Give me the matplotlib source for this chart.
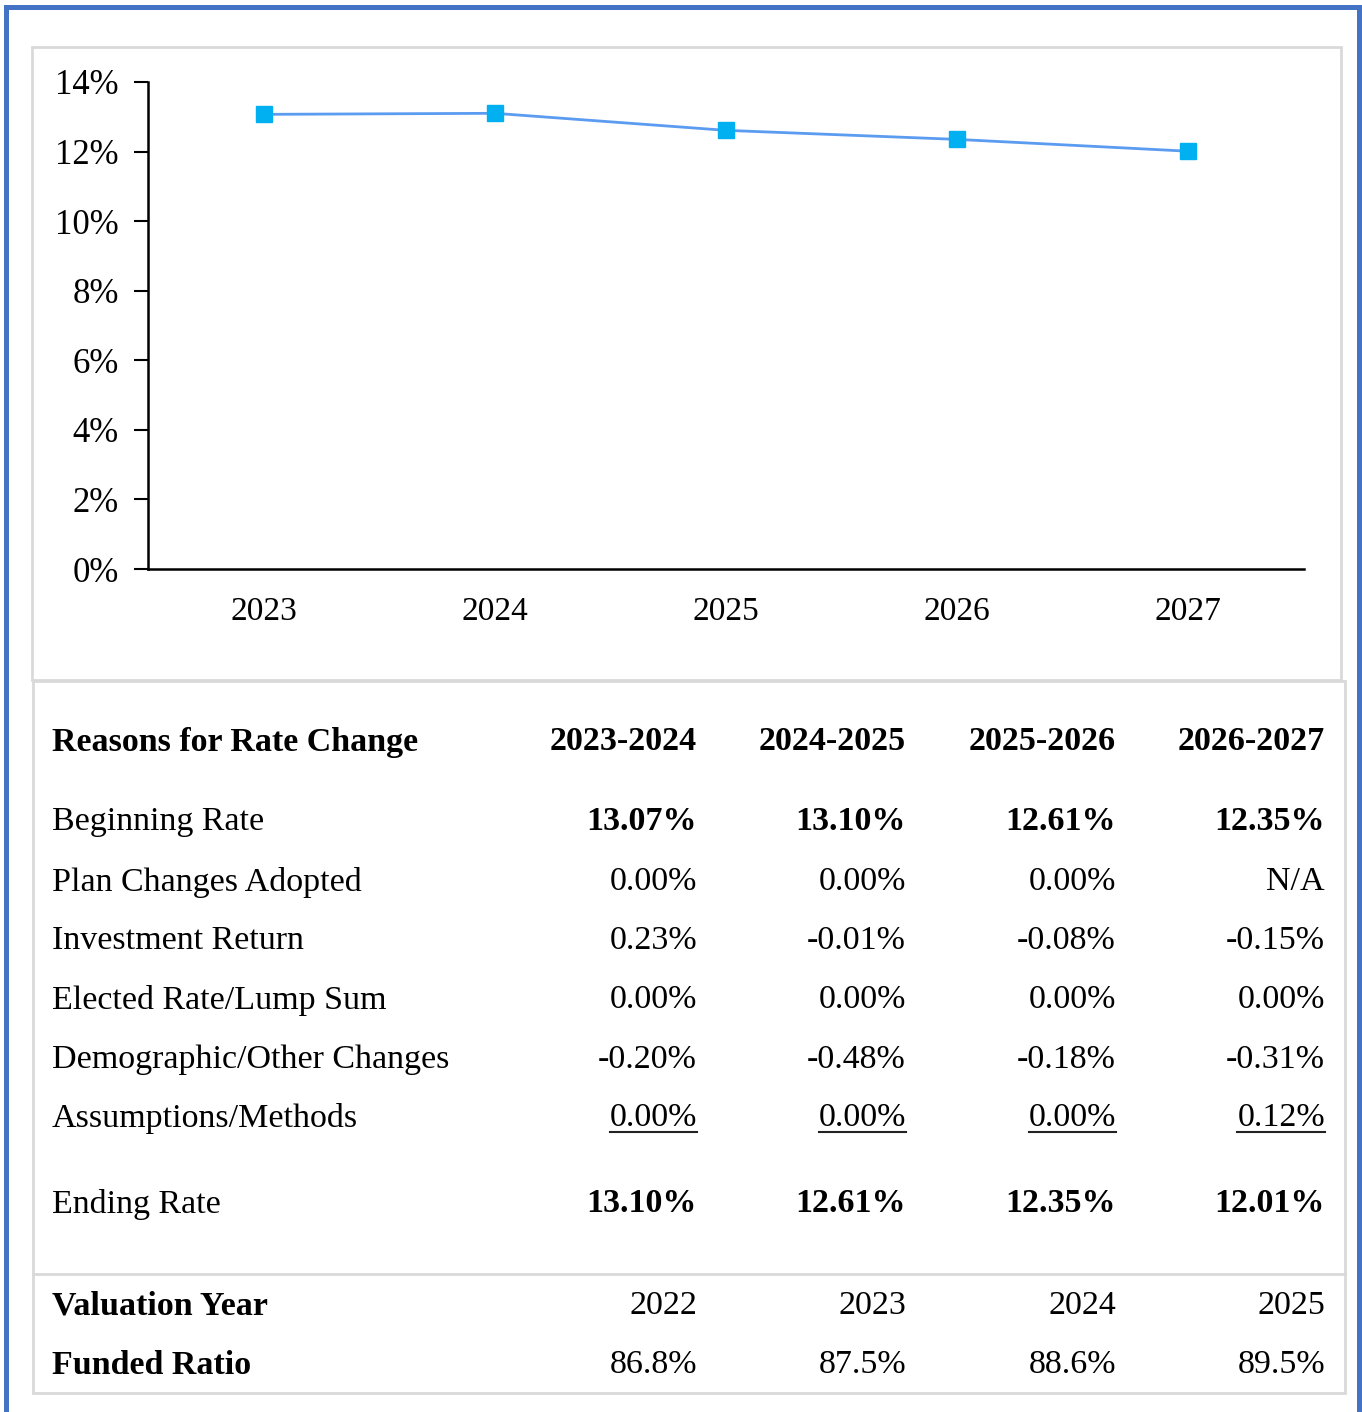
import matplotlib.pyplot as plt
from matplotlib.patches import Rectangle
from matplotlib.lines import Line2D

years = ["2023", "2024", "2025", "2026", "2027"]
rates = [13.07, 13.10, 12.61, 12.35, 12.01]

periods = ["2023-2024", "2024-2025", "2025-2026", "2026-2027"]
row_labels = ["Beginning Rate", "Plan Changes Adopted", "Investment Return",
              "Elected Rate/Lump Sum", "Demographic/Other Changes",
              "Assumptions/Methods", "Ending Rate"]
beginning = ["13.07%", "13.10%", "12.61%", "12.35%"]
plan_changes = ["0.00%", "0.00%", "0.00%", "N/A"]
investment = ["0.23%", "-0.01%", "-0.08%", "-0.15%"]
elected = ["0.00%", "0.00%", "0.00%", "0.00%"]
demographic = ["-0.20%", "-0.48%", "-0.18%", "-0.31%"]
assumptions = ["0.00%", "0.00%", "0.00%", "0.12%"]
ending = ["13.10%", "12.61%", "12.35%", "12.01%"]
valuation_years = ["2022", "2023", "2024", "2025"]
funded_ratio = ["86.8%", "87.5%", "88.6%", "89.5%"]

W, H = 1362, 1412
plt.rcParams['font.family'] = ['Liberation Serif', 'DejaVu Serif']
fig = plt.figure(figsize=(W / 100, H / 100), dpi=100)


def fx(x):
    return x / W


def fy(y):
    return 1 - y / H


def box(x0, y0, x1, y1, **kw):
    fig.patches.append(Rectangle((fx(x0), fy(y1)), fx(x1) - fx(x0), fy(y0) - fy(y1),
                                 transform=fig.transFigure, **kw))


# outer blue frame (open at the bottom)
blue = "#4472C4"
box(4, 5, 9, H + 5, color=blue, lw=0)
box(4, 5, 1362, 10, color=blue, lw=0)
box(1357, 5, 1362, H + 5, color=blue, lw=0)

# gray boxes
box(32, 47, 1341, 680, fill=False, ec="#d9d9d9", lw=2)
box(33, 681, 1345, 1393, fill=False, ec="#d9d9d9", lw=2)
fig.lines.append(Line2D([fx(33), fx(1345)], [fy(1274), fy(1274)],
                        transform=fig.transFigure, color="#d9d9d9", lw=2))

# line chart
ax = fig.add_axes([fx(148), fy(569), fx(1304) - fx(148), fy(82) - fy(569)])
xs = list(range(len(years)))
ax.plot(xs, rates, color="#5B9BF0", lw=2, marker="s", markersize=12,
        markerfacecolor="#00B0F0", markeredgecolor="#00B0F0")
ax.set_xlim(-0.5, len(years) - 0.5)
ax.set_ylim(0, 14)
ax.set_yticks(range(0, 15, 2))
ax.set_yticklabels([f"{v}%" for v in range(0, 15, 2)])
ax.set_xticks(xs)
ax.set_xticklabels(years)
ax.tick_params(axis="y", length=10, width=1.5, labelsize=25, pad=11)
ax.tick_params(axis="x", length=0, labelsize=24, pad=20)
for s in ["top", "right"]:
    ax.spines[s].set_visible(False)
for s in ["left", "bottom"]:
    ax.spines[s].set_linewidth(1.8)
ax.patch.set_alpha(0)

# table
col_x = [697, 906, 1116, 1325]
fs = 24.5


def row(y, label, values, bold_label=False, bold_vals=False):
    y = y + 2
    fig.text(fx(52), fy(y), label, ha="left", va="center", fontsize=fs,
             fontweight="bold" if bold_label else "normal")
    texts = []
    for x, v in zip(col_x, values):
        t = fig.text(fx(x), fy(y), v, ha="right", va="center", fontsize=fs,
                     fontweight="bold" if bold_vals else "normal")
        texts.append(t)
    return texts


row(740, "Reasons for Rate Change", periods, True, True)
row(820, row_labels[0], beginning, bold_vals=True)
row(880, row_labels[1], plan_changes)
row(939, row_labels[2], investment)
row(998, row_labels[3], elected)
row(1058, row_labels[4], demographic)
under = row(1116, row_labels[5], assumptions)
row(1202, row_labels[6], ending, bold_vals=True)
row(1304, "Valuation Year", valuation_years, bold_label=True)
row(1363, "Funded Ratio", funded_ratio, bold_label=True)

fig.canvas.draw()
r = fig.canvas.get_renderer()
for t in under:
    bb = t.get_window_extent(r)
    fig.lines.append(Line2D([bb.x0 / W, bb.x1 / W], [fy(1132), fy(1132)],
                            transform=fig.transFigure, color="#222222", lw=1.5))

fig.savefig("out.png", dpi=100)
